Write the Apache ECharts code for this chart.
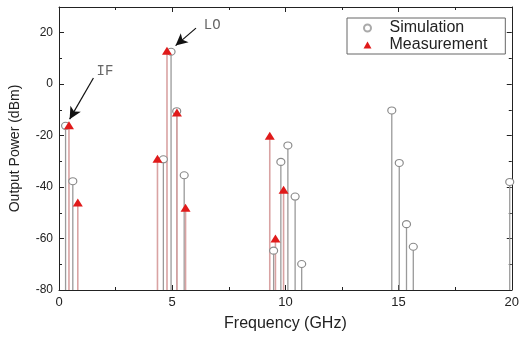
<!DOCTYPE html>
<html>
<head>
<meta charset="utf-8">
<script src="https://cdn.jsdelivr.net/npm/echarts@6/dist/echarts.min.js"></script>
<style>
  html, body { margin: 0; padding: 0; background: #fff; }
  #chart { width: 522px; height: 337px; }
</style>
</head>
<body>
<div id="chart"></div>
<script>
// frequency (GHz) / output power (dBm)
const simFreq = [0.29, 0.61, 4.61, 4.95, 5.20, 5.53, 9.48, 9.80, 10.11, 10.43, 10.72, 14.70, 15.03, 15.35, 15.65, 19.91];
const simPower = [-16.2, -37.7, -29.2, 12.6, -10.5, -35.4, -64.7, -30.2, -23.8, -43.7, -69.9, -10.2, -30.6, -54.4, -63.2, -38];
const measFreq = [0.44, 0.83, 4.35, 4.77, 5.21, 5.59, 9.31, 9.56, 9.92];
const measPower = [-16, -46, -29, 13, -11, -48, -20, -60, -41];
const xTicks = [0, 5, 10, 15, 20];
const yTicks = [-80, -60, -40, -20, 0, 20];
// arrow labels: text, arrow start, arrow tip (data coords), label nudge in px
const notes = [
  { text: 'IF', from: [1.52, 2.4], to: [0.47, -13.6], nudge: [10, 3] },
  { text: 'LO', from: [6.05, 21.8], to: [5.15, 15.0], nudge: [14, -1] }
];

const floor = -80;
const simData = simFreq.map((f, i) => [f, simPower[i]]);
const measData = measFreq.map((f, i) => [f, measPower[i]]);

const stem = (color, width) => (params, api) => {
  const a = api.coord([api.value(0), floor]);
  const b = api.coord([api.value(0), api.value(1)]);
  return {
    type: 'line',
    shape: { x1: a[0], y1: a[1], x2: b[0], y2: b[1] },
    style: { stroke: color, lineWidth: width }
  };
};

const font = 'Liberation Sans, Arial, sans-serif';
const axisLine = { show: true, onZero: false, lineStyle: { color: '#222', width: 1 } };
const tick = { show: true, inside: true, length: 5, lineStyle: { color: '#222' } };
const minor = { show: true, splitNumber: 2, length: 3, lineStyle: { color: '#222' } };

const chart = echarts.init(document.getElementById('chart'));
chart.setOption({
  animation: false,
  backgroundColor: '#fff',
  grid: { left: 58, right: 7, top: 7, bottom: 46 },
  legend: {
    orient: 'vertical',
    left: 347, top: 18,
    padding: [2, 18, 1, 16],
    itemGap: 1,
    itemWidth: 8, itemHeight: 7,
    borderColor: '#666', borderWidth: 1,
    textStyle: { fontFamily: font, fontSize: 16, color: '#222', padding: [0, 0, 0, 13] },
    data: [
      { name: 'Simulation', itemStyle: { borderColor: '#aaa' } },
      { name: 'Measurement' }
    ]
  },
  xAxis: [{
    type: 'value', min: 0, max: 20, interval: 5, position: 'bottom',
    axisLine, axisTick: tick, minorTick: minor, splitLine: { show: false },
    axisLabel: {
      margin: 6, fontFamily: font, fontSize: 13, color: '#222',
      formatter: v => xTicks.includes(v) ? String(v) : ''
    },
    name: 'Frequency (GHz)', nameLocation: 'middle', nameGap: 26,
    nameTextStyle: { fontFamily: font, fontSize: 16, color: '#222' }
  }, {
    type: 'value', min: 0, max: 20, interval: 5, position: 'top',
    axisLine, axisTick: tick, minorTick: minor, splitLine: { show: false },
    axisLabel: { show: false }
  }],
  yAxis: [{
    type: 'value', min: -80, max: 30, interval: 20, position: 'left',
    axisLine, axisTick: tick, minorTick: minor, splitLine: { show: false },
    axisLabel: {
      margin: 6, fontFamily: font, fontSize: 12, color: '#222',
      formatter: v => yTicks.includes(v) ? String(v) : ''
    },
    name: 'Output Power (dBm)', nameLocation: 'middle', nameGap: 37,
    nameTextStyle: { fontFamily: font, fontSize: 14, color: '#222' }
  }, {
    type: 'value', min: -80, max: 30, interval: 20, position: 'right',
    axisLine, axisTick: tick, minorTick: minor, splitLine: { show: false },
    axisLabel: { show: false }
  }],
  series: [
    {
      type: 'custom', name: 'simStem', data: simData,
      renderItem: stem('#9a9a9a', 1.3), z: 1
    },
    {
      type: 'custom', name: 'measStem', data: measData,
      renderItem: stem('#d9a3a3', 1.6), z: 1
    },
    {
      type: 'scatter', name: 'Simulation', data: simData,
      symbol: 'circle', symbolSize: [8, 7],
      itemStyle: { color: '#fff', borderColor: '#8a8a8a', borderWidth: 1.1, opacity: 1 },
      z: 3
    },
    {
      type: 'scatter', name: 'Measurement', data: measData,
      symbol: 'triangle', symbolSize: [10, 8],
      itemStyle: { color: '#e01a1a', opacity: 1 },
      z: 4,
      markLine: {
        silent: true,
        symbol: ['none', 'arrow'],
        symbolSize: [9, 12],
        lineStyle: { color: '#111', width: 1.2, type: 'solid' },
        label: {
          show: true, position: 'start', distance: 3,
          fontFamily: 'Liberation Mono, Courier New, monospace', fontSize: 14, color: '#666',
          formatter: p => p.name
        },
        data: notes.map(n => [
          { coord: n.from, name: n.text, label: { offset: n.nudge } },
          { coord: n.to }
        ])
      }
    }
  ]
});
</script>
</body>
</html>
